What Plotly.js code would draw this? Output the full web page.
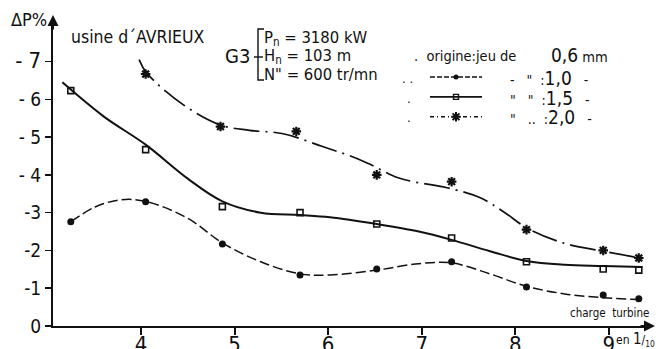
<!DOCTYPE html>
<html>
<head>
<meta charset="utf-8">
<script src="https://cdn.plot.ly/plotly-3.0.1.min.js"></script>
<style>
html,body{margin:0;padding:0;background:#fff;}
#chart{width:659px;height:349px;}
.legend .traces{opacity:1 !important;}
</style>
</head>
<body>
<div id="chart"></div>
<script>
// ---- data ----
// turbine load (x, in tenths) and power loss ΔP% for each clearance
const loadX = [3.25, 4.05, 4.87, 5.70, 6.52, 7.32, 8.12, 8.94, 9.32];
const dP10 = [-2.76, -3.29, -2.17, -1.35, -1.51, -1.70, -1.03, -0.82, -0.72];
const dP15 = [-6.23, -4.67, -3.16, -3.00, -2.70, -2.33, -1.70, -1.51, -1.48];
const loadX20 = [4.05, 4.85, 5.66, 6.52, 7.32, 8.12, 8.94, 9.32];
const dP20 = [-6.67, -5.28, -5.15, -4.00, -3.82, -2.55, -2.00, -1.80];

// hand-drawn fitted curves
const fit10X = [3.25, 3.51, 3.78, 4.05, 4.50, 4.87, 5.28, 5.70, 6.02, 6.52, 6.97, 7.32, 7.73, 8.12, 8.53, 8.94, 9.32];
const fit10Y = [-2.76, -3.15, -3.34, -3.30, -2.85, -2.20, -1.70, -1.38, -1.35, -1.48, -1.65, -1.67, -1.38, -1.05, -0.85, -0.75, -0.70];
const fit15X = [3.16, 3.60, 4.05, 4.50, 4.87, 5.28, 5.70, 6.02, 6.52, 6.97, 7.32, 7.73, 8.12, 8.53, 8.94, 9.36];
const fit15Y = [-6.45, -5.55, -4.80, -3.90, -3.30, -3.00, -2.94, -2.88, -2.70, -2.50, -2.28, -1.98, -1.72, -1.62, -1.59, -1.56];
const fit20X = [3.98, 4.06, 4.45, 4.85, 5.16, 5.52, 5.94, 6.26, 6.43, 6.74, 6.91, 7.27, 7.62, 7.89, 8.12, 8.51, 8.94, 9.38];
const fit20Y = [-7.05, -6.70, -5.86, -5.32, -5.18, -5.09, -4.75, -4.48, -4.30, -3.93, -3.82, -3.66, -3.40, -3.00, -2.60, -2.20, -1.98, -1.78];

const xTicks = [4, 5, 6, 7, 8, 9];
const xTickText = ['4', '5', '6', '7', '8', '9'];
const yTicks = [0, -1, -2, -3, -4, -5, -6, -7];
const yTickText = ['0', '-1', '-2', '-3', '- 4', '- 5', '- 6', '<span style="font-size:22px">- 7</span>'];

// ---- layout helpers (pixel -> paper) ----
const L = 53, R = 650, T = 20, B = 326;
const px = x => (x - L) / (R - L);
const py = y => (B - y) / (B - T);
const FONT = 'DejaVu Sans Condensed, DejaVu Sans, sans-serif';
const INK = '#111';

const dashDots = '10px,4px';
const dashDot = '26px,6px,2px,6px';

const traces = [
  {x: fit10X, y: fit10Y, mode: 'lines', line: {shape: 'spline', smoothing: 1, color: INK, width: 1.5, dash: dashDots}, showlegend: false, hoverinfo: 'skip'},
  {x: fit15X, y: fit15Y, mode: 'lines', line: {shape: 'spline', smoothing: 1, color: INK, width: 2}, showlegend: false, hoverinfo: 'skip'},
  {x: fit20X, y: fit20Y, mode: 'lines', line: {shape: 'spline', smoothing: 1, color: INK, width: 1.7, dash: dashDot}, showlegend: false, hoverinfo: 'skip'},
  {x: loadX, y: dP10, mode: 'markers', marker: {symbol: 'circle', size: 7, color: INK}, showlegend: false},
  {x: loadX, y: dP15, mode: 'markers', marker: {symbol: 'square-open', size: 6, color: INK, line: {width: 1.6, color: INK}}, showlegend: false},
  {x: loadX20, y: dP20, mode: 'markers', marker: {symbol: 'asterisk-open', size: 8, color: INK, line: {width: 2.2, color: INK}}, showlegend: false},
  // legend keys
  {x: [null], y: [null], name: ' ', mode: 'lines+markers', line: {color: INK, width: 1.6, dash: '5px,2px'}, marker: {symbol: 'circle', size: 5, color: INK}},
  {x: [null], y: [null], name: ' ', mode: 'lines+markers', line: {color: INK, width: 1.6}, marker: {symbol: 'square-open', size: 5, color: INK, line: {width: 1.4, color: INK}}},
  {x: [null], y: [null], name: ' ', mode: 'lines+markers', line: {color: INK, width: 1.6, dash: '4px,3px,1px,3px'}, marker: {symbol: 'asterisk-open', size: 8, color: INK, line: {width: 2, color: INK}}}
];

const ann = (x, y, text, size, extra) => Object.assign({
  xref: 'paper', yref: 'paper', x: px(x), y: py(y), text: text, showarrow: false,
  xanchor: 'left', yanchor: 'middle', font: {family: FONT, size: size, color: INK}
}, extra || {});

const annotations = [
  ann(29, 19, 'ΔP%', 18, {xanchor: 'center'}),
  ann(69, 37, 'usine d´AVRIEUX', 17.5),
  ann(237, 56, 'G3', 20, {xanchor: 'center'}),
  ann(262, 38, 'P<sub>n</sub> = 3180 kW', 16.5),
  ann(262, 56, 'H<sub>n</sub> = 103 m', 16.5),
  ann(262, 74, 'N" = 600 tr/mn', 16.5),
  ann(412, 56, '.  origine:jeu de', 14.5),
  ann(549, 55, '<span style="font-size:19px">0,6</span> mm', 14.5),
  ann(400, 78, '. .', 13),
  ann(405, 98, '.', 13),
  ann(405, 117, '.', 13),
  ann(508, 78, '-   "  :<span style="font-size:19px">1,0</span>   -', 14),
  ann(508, 98, '"   "  :<span style="font-size:19px">1,5</span>   -', 14),
  ann(508, 117, '"   ..  :<span style="font-size:19px">2,0</span>   -', 14),
  ann(568, 313, 'charge  turbine', 11.5),
  ann(614, 339, 'en <span style="font-size:15px">1</span>/<sub>10</sub>', 12),
  // axis arrows
  {xref: 'paper', yref: 'paper', x: px(655), y: py(326), ax: -16, ay: 0, text: '', showarrow: true,
   arrowhead: 2, arrowsize: 1.1, arrowwidth: 2, arrowcolor: INK},
  {xref: 'paper', yref: 'paper', x: px(53), y: py(15), ax: 0, ay: 16, text: '', showarrow: true,
   arrowhead: 2, arrowsize: 1.1, arrowwidth: 2, arrowcolor: INK}
];

const shapes = [
  // bracket
  {type: 'path', xref: 'paper', yref: 'paper',
   path: 'M' + px(264) + ',' + py(29) + ' L' + px(258) + ',' + py(29) + ' L' + px(258) + ',' + py(80) + ' L' + px(264) + ',' + py(80),
   line: {color: INK, width: 1.4}},
  {type: 'line', xref: 'paper', yref: 'paper', x0: px(254), x1: px(263), y0: py(57), y1: py(57), line: {color: INK, width: 1.4}}
];

const layout = {
  width: 659, height: 349,
  margin: {l: L, r: 659 - R, t: T, b: 349 - B, pad: 0},
  paper_bgcolor: '#fff', plot_bgcolor: '#fff',
  font: {family: FONT, color: INK},
  showlegend: true,
  legend: {x: px(425), y: py(62), xanchor: 'left', yanchor: 'top', bgcolor: 'rgba(0,0,0,0)',
           font: {family: FONT, size: 13, color: INK}, itemwidth: 52, itemclick: false, itemdoubleclick: false},
  xaxis: {range: [3.06, 9.44], tickvals: xTicks, ticktext: xTickText, ticks: 'outside', ticklen: 7, tickwidth: 2, tickcolor: INK,
          showline: true, linecolor: INK, linewidth: 2, showgrid: false, zeroline: false, ticklabelstandoff: -9,
          tickfont: {family: FONT, size: 22, color: INK}},
  yaxis: {range: [0, -8.1], tickvals: yTicks, ticktext: yTickText, ticks: 'outside', ticklen: 6, tickwidth: 1.6, tickcolor: INK,
          showline: true, linecolor: INK, linewidth: 2, showgrid: false, zeroline: false, ticklabelstandoff: 0,
          tickfont: {family: FONT, size: 19, color: INK}},
  xaxis2: {overlaying: 'x', anchor: 'y', range: [3.06, 9.44], tickvals: xTicks, ticks: 'inside', ticklen: 6, tickwidth: 2, tickcolor: INK,
           showticklabels: false, showline: false, showgrid: false, zeroline: false},
  yaxis2: {overlaying: 'y', anchor: 'x', range: [0, -8.1], tickvals: yTicks, ticks: 'inside', ticklen: 6, tickwidth: 1.6, tickcolor: INK,
           showticklabels: false, showline: false, showgrid: false, zeroline: false},
  annotations: annotations,
  shapes: shapes
};

Plotly.newPlot('chart', traces, layout, {staticPlot: true, displayModeBar: false});
</script>
</body>
</html>
